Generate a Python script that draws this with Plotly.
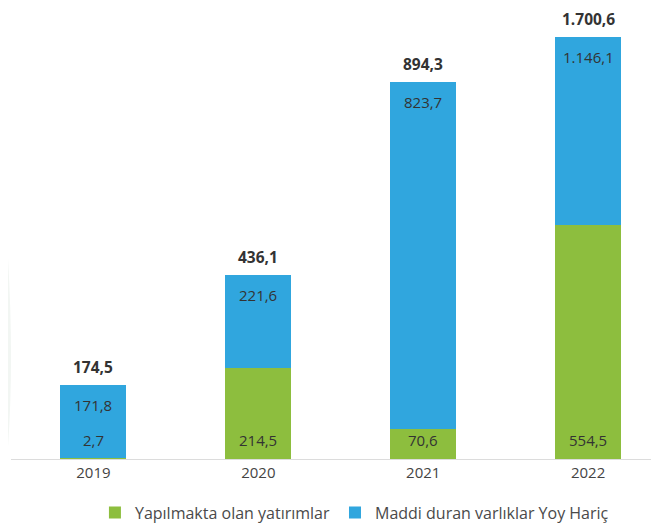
import plotly.graph_objects as go

years = ["2019", "2020", "2021", "2022"]
green_vals = [2.7, 214.5, 70.6, 554.5]      # Yapılmakta olan yatırımlar
blue_vals = [171.8, 221.6, 823.7, 1146.1]   # Maddi duran varlıklar Yoy Hariç
totals = [174.5, 436.1, 894.3, 1700.6]
series_names = ["Yapılmakta olan yatırımlar", "Maddi duran varlıklar Yoy Hariç"]

GREEN = "#8dbe3e"
BLUE = "#30a6de"
TXT = "#333333"
FONT = "'Open Sans', 'Noto Sans', sans-serif"
Y_MAX = 1000  # axis cap; the 2022 bar is cut at the top as in the original


def tr(v):
    s = f"{v:,.1f}"
    return s.replace(",", "X").replace(".", ",").replace("X", ".")


fig = go.Figure()
fig.add_trace(go.Bar(x=years, y=green_vals, name=series_names[0],
                     marker=dict(color=GREEN, line=dict(width=0)), width=0.4,
                     hoverinfo="skip"))
fig.add_trace(go.Bar(x=years, y=blue_vals, name=series_names[1],
                     marker=dict(color=BLUE, line=dict(width=0)), width=0.4,
                     hoverinfo="skip"))

ann = []
for i, y in enumerate(years):
    top = min(totals[i], Y_MAX)
    ann.append(dict(x=i, y=top, xref="x", yref="y", text=f"<b>{tr(totals[i])}</b>",
                    showarrow=False, yshift=18,
                    font=dict(family=FONT, size=15.5, color="#333333")))
    ann.append(dict(x=i, y=top, xref="x", yref="y", text=tr(blue_vals[i]),
                    showarrow=False, yshift=-20, font=dict(family=FONT, size=15, color=TXT)))
    ann.append(dict(x=i, y=0, xref="x", yref="y", text=tr(green_vals[i]),
                    showarrow=False, yshift=19, font=dict(family=FONT, size=15, color=TXT)))

fig.update_layout(
    barmode="stack",
    width=659, height=526,
    margin=dict(l=3, r=8, t=29, b=75),
    paper_bgcolor="white", plot_bgcolor="rgba(0,0,0,0)",
    font=dict(family=FONT, color="#444444"),
    annotations=ann,
    showlegend=True,
    legend=dict(orientation="h", x=0.53, xanchor="center", y=-0.127, yanchor="middle",
                font=dict(size=16, color="#4a4a4a"), itemwidth=30,
                traceorder="normal", bgcolor="rgba(0,0,0,0)"),
    shapes=[dict(type="path", xref="paper", yref="paper", layer="below",
                 path="M -0.02 0.75 Q 0.02 0.2 -0.02 -0.18 L -0.02 -0.18 Z",
                 fillcolor="#f2f6f3", line=dict(width=0))],
)
fig.update_xaxes(type="category", range=[-0.5, 3.43], showline=True, linecolor="#dcdcdc",
                 linewidth=1, ticks="", tickfont=dict(size=15, color="#444444"),
                 showgrid=False, fixedrange=True)
fig.update_yaxes(range=[0, Y_MAX], visible=False, showgrid=False, zeroline=False,
                 fixedrange=True)

fig.write_html("out.html")
